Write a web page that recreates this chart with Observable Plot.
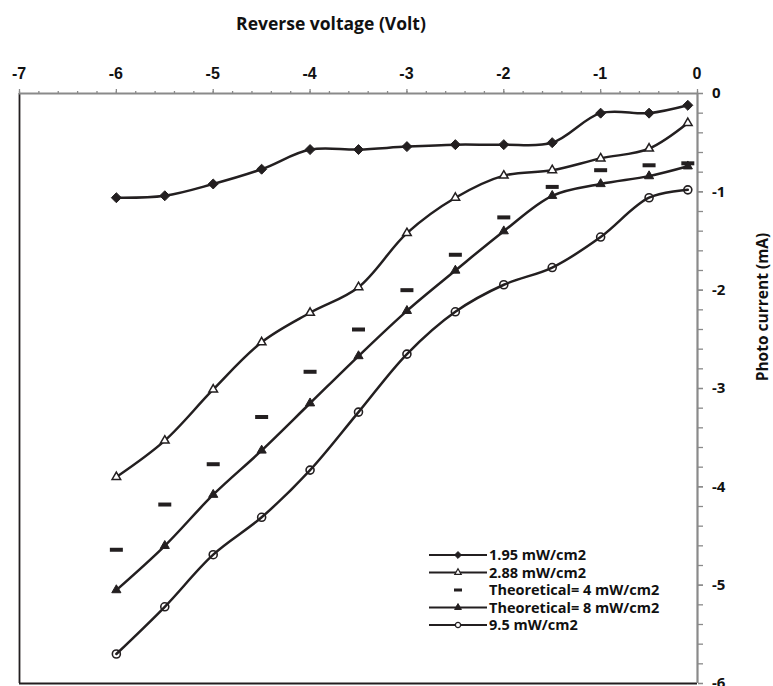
<!DOCTYPE html>
<html>
<head>
<meta charset="utf-8">
<script src="https://cdn.jsdelivr.net/npm/d3@7"></script>
<script src="https://cdn.jsdelivr.net/npm/@observablehq/plot@0.6"></script>
<style>
  html, body { margin: 0; padding: 0; background: #fff; }
  #chart { width: 773px; height: 686px; }
</style>
</head>
<body>
<div id="chart"></div>
<script>
// ---- data ----
const voltage = [-6, -5.5, -5, -4.5, -4, -3.5, -3, -2.5, -2, -1.5, -1, -0.5, -0.1];
const s195  = [-1.06, -1.04, -0.92, -0.77, -0.57, -0.57, -0.54, -0.52, -0.52, -0.50, -0.20, -0.20, -0.12];
const s288  = [-3.90, -3.53, -3.01, -2.53, -2.23, -1.97, -1.42, -1.06, -0.835, -0.78, -0.66, -0.56, -0.30];
const theo4 = [-4.64, -4.18, -3.77, -3.29, -2.83, -2.40, -2.00, -1.64, -1.26, -0.95, -0.78, -0.73, -0.71];
const theo8 = [-5.05, -4.60, -4.08, -3.63, -3.15, -2.67, -2.21, -1.80, -1.40, -1.04, -0.92, -0.84, -0.74];
const s95   = [-5.70, -5.22, -4.69, -4.31, -3.83, -3.24, -2.65, -2.22, -1.945, -1.77, -1.46, -1.06, -0.98];

const seriesNames = ["1.95 mW/cm2", "2.88 mW/cm2", "Theoretical= 4 mW/cm2", "Theoretical= 8 mW/cm2", "9.5 mW/cm2"];
const xTicks = [-7, -6, -5, -4, -3, -2, -1, 0];
const yTicks = [0, -1, -2, -3, -4, -5, -6];
const xLabel = "Reverse voltage (Volt)";
const yLabel = "Photo current (mA)";

// ---- build tables ----
const toRows = (vals) => voltage.map((v, i) => ({x: v, y: vals[i]}));
const d195 = toRows(s195), d288 = toRows(s288), d4 = toRows(theo4), d8 = toRows(theo8), d95 = toRows(s95);
const xMinor = d3.range(-35, 1).map(i => i / 5);
const yMinor = d3.range(-30, 1).map(i => i / 5);

const ink = "#231f20";
const axisGray = "#8a8a8a";
const dashSymbol = { draw(ctx) { ctx.rect(-6.5, -2, 13, 4); } };
const curve = "catmull-rom";
const lw = 2.5;

const chart = Plot.plot({
  width: 773,
  height: 686,
  marginLeft: 19,
  marginRight: 76,
  marginTop: 93,
  marginBottom: 3,
  style: { fontFamily: "'Open Sans', sans-serif", background: "#fff" },
  x: { domain: [-7, 0] },
  y: { domain: [-6, 0] },
  marks: [
    Plot.ruleX([-7], { stroke: ink, strokeWidth: 1.8 }),
    Plot.ruleY([-6], { stroke: ink, strokeWidth: 1.8 }),
    // top axis (ticks only; labels added below with the plot's x scale)
    Plot.axisX(xMinor, { anchor: "top", tickSize: 3, stroke: axisGray, strokeWidth: 1.3, text: null, label: null }),
    Plot.axisX(xTicks, { anchor: "top", tickSize: 5, stroke: axisGray, strokeWidth: 1.3, text: null, label: null }),
    Plot.ruleY([0], { stroke: axisGray, strokeWidth: 2 }),
    // right axis
    Plot.axisY(yMinor, { anchor: "right", tickSize: 5, stroke: axisGray, strokeWidth: 1.3, text: null, label: null }),
    Plot.axisY(yTicks, { anchor: "right", tickSize: 5, stroke: axisGray, strokeWidth: 1.3, text: null, label: null }),
    Plot.ruleX([0], { stroke: axisGray, strokeWidth: 2.2 }),
    // lines
    Plot.line(d195, { x: "x", y: "y", stroke: ink, strokeWidth: lw, curve }),
    Plot.line(d288, { x: "x", y: "y", stroke: ink, strokeWidth: lw, curve }),
    Plot.line(d8,   { x: "x", y: "y", stroke: ink, strokeWidth: lw, curve }),
    Plot.line(d95,  { x: "x", y: "y", stroke: ink, strokeWidth: lw, curve }),
    // markers
    Plot.dot(d195, { x: "x", y: "y", symbol: "diamond2", r: 4.5, fill: ink, stroke: ink, strokeWidth: 1 }),
    Plot.dot(d288, { x: "x", y: "y", symbol: "triangle", r: 3.2, fill: "#fff", stroke: ink, strokeWidth: 1.5 }),
    Plot.dot(d4,   { x: "x", y: "y", symbol: dashSymbol, fill: ink, stroke: "none" }),
    Plot.dot(d8,   { x: "x", y: "y", symbol: "triangle", r: 3.4, fill: ink, stroke: ink, strokeWidth: 1 }),
    Plot.dot(d95,  { x: "x", y: "y", symbol: "circle", r: 4, fill: "none", stroke: ink, strokeWidth: 1.6 })
  ]
});

document.getElementById("chart").appendChild(chart);
const svg = d3.select(chart);
const sx = chart.scale("x"), sy = chart.scale("y");
const x0px = sx.apply(0), ytop = sy.apply(0);

// tick labels, placed with the plot's scales
const tl = svg.append("g").attr("class", "tick-labels").attr("fill", "#111");
xTicks.forEach(d => {
  tl.append("text").attr("x", sx.apply(d)).attr("y", ytop - 20).attr("dy", "0.35em")
    .attr("text-anchor", "middle")
    .style("font-family", "'Liberation Sans', Arial, sans-serif").style("font-weight", "bold").style("font-size", "16px")
    .text(`${d}`);
});
yTicks.forEach(d => {
  tl.append("text").attr("x", x0px + 15).attr("y", sy.apply(d)).attr("dy", "0.35em")
    .attr("text-anchor", "start")
    .style("font-family", "'Open Sans', sans-serif").style("font-weight", "bold").style("font-size", "15px")
    .text(`${d}`);
});

// axis titles
svg.append("text").attr("x", 331).attr("y", 24).attr("dy", "0.35em")
  .attr("text-anchor", "middle").style("font-family", "'Open Sans', sans-serif")
  .style("font-weight", "bold").style("font-size", "17.5px").attr("fill", "#111").text(xLabel);
svg.append("text").attr("transform", "translate(763,307) rotate(-90)").attr("dy", "0.35em")
  .attr("text-anchor", "middle").style("font-family", "'Open Sans', sans-serif")
  .style("font-weight", "bold").style("font-size", "15.5px").attr("fill", "#111").text(yLabel);

// ---- legend (inside the plot area, bottom right) ----
const lg = svg.append("g").attr("class", "legend");
const rowY = [555, 572.5, 590, 607.5, 625];
const lx0 = 429, lx1 = 487, mx = 458, tx = 489;
const legendSymbols = [
  { line: true, sym: d3.symbol(d3.symbolDiamond2, 30)(), fill: ink, stroke: ink, sw: 1 },
  { line: true, sym: d3.symbol(d3.symbolTriangle, 18)(), fill: "#fff", stroke: ink, sw: 1.2 },
  { line: false, sym: null },
  { line: true, sym: d3.symbol(d3.symbolTriangle, 20)(), fill: ink, stroke: ink, sw: 1 },
  { line: true, sym: d3.symbol(d3.symbolCircle, 22)(), fill: "#fff", stroke: ink, sw: 1.3 }
];
seriesNames.forEach((name, i) => {
  const y = rowY[i];
  const s = legendSymbols[i];
  if (s.line) {
    lg.append("line").attr("x1", lx0).attr("x2", lx1).attr("y1", y).attr("y2", y)
      .attr("stroke", ink).attr("stroke-width", 2.2);
    lg.append("path").attr("d", s.sym).attr("transform", `translate(${mx},${y})`)
      .attr("fill", s.fill).attr("stroke", s.stroke).attr("stroke-width", s.sw);
  } else {
    lg.append("rect").attr("x", mx - 4).attr("y", y - 1.5).attr("width", 8).attr("height", 3).attr("fill", ink);
  }
  lg.append("text").attr("x", tx).attr("y", y).attr("dy", "0.35em").attr("text-anchor", "start")
    .style("font-family", "'Open Sans', sans-serif").style("font-weight", "bold").style("font-size", "14.5px")
    .attr("fill", "#111").text(name);
});
</script>
</body>
</html>
